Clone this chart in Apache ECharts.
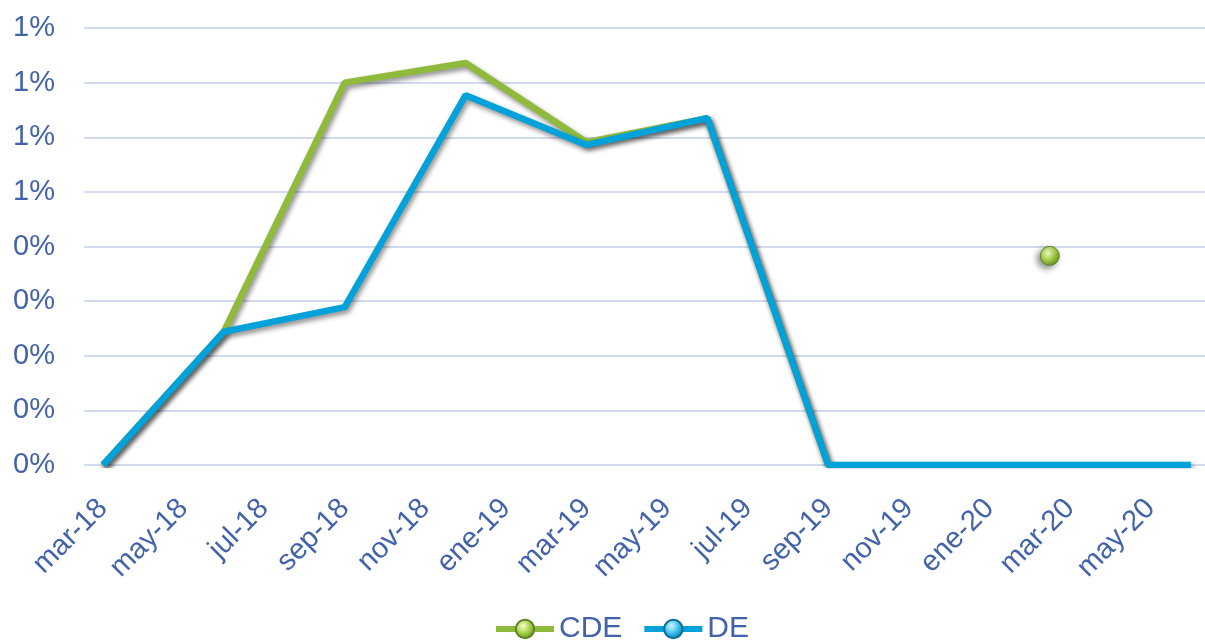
<!DOCTYPE html>
<html>
<head>
<meta charset="utf-8">
<script src="https://cdn.jsdelivr.net/npm/echarts@6/dist/echarts.min.js"></script>
<style>
html,body{margin:0;padding:0;background:#fff;}
#chart{width:1205px;height:641px;}
</style>
</head>
<body>
<div id="chart"></div>
<script>
// Month offsets counted from mar-18
const xTickPos = [0,2,4,6,8,10,12,14,16,18,20,22,24,26];
const xTickLabels = ['mar-18','may-18','jul-18','sep-18','nov-18','ene-19','mar-19','may-19','jul-19','sep-19','nov-19','ene-20','mar-20','may-20'];
const yTickLabels = ['0%','0%','0%','0%','0%','1%','1%','1%','1%'];

// Quarterly observation positions (months from mar-18)
const obsPos = [0,3,6,9,12,15,18,21,24,27];
// Values in percent
const deValues  = [0, 0.244, 0.289, 0.677, 0.586, 0.635, 0, 0, 0, 0];
const cdeValues = [0, 0.244, 0.700, 0.736, 0.591, 0.635, 0, null, null, null];
// Isolated CDE observation
const cdeLonePos = 23.5;
const cdeLoneValue = 0.383;

const labelColor = '#4262aa';
const fontFam = '"Liberation Sans", Arial, sans-serif';

const deData = obsPos.map((p,i)=>[p, deValues[i]]);
const cdeData = [];
obsPos.forEach((p,i)=>{
  if (p > cdeLonePos && cdeData.length && cdeData[cdeData.length-1][0] < cdeLonePos) {
    cdeData.push({value:[cdeLonePos, cdeLoneValue], symbolSize:19});
  }
  cdeData.push([p, cdeValues[i] === null ? '-' : cdeValues[i]]);
});

function sphere(light, mid, dark){
  return new echarts.graphic.RadialGradient(0.4, 0.35, 0.65, [
    {offset:0, color:light},{offset:0.55, color:mid},{offset:1, color:dark}
  ]);
}

const chart = echarts.init(document.getElementById('chart'), null, {renderer:'canvas'});
chart.setOption({
  animation:false,
  grid:{left:84, right:0, top:28, bottom:176, containLabel:false},
  legend:{
    bottom:-8, left:488,
    itemWidth:58, itemHeight:23, itemGap:19,
    lineStyle:{width:6},
    textStyle:{color:labelColor, fontSize:30, fontFamily:fontFam},
    data:['CDE','DE']
  },
  xAxis:{
    type:'value', min:-0.47, max:27.35,
    axisLine:{show:false}, axisTick:{show:false}, splitLine:{show:false},
    axisLabel:{
      customValues:xTickPos,
      rotate:45, margin:39,
      color:labelColor, fontSize:29, fontFamily:fontFam,
      formatter:(v)=>{ const i = xTickPos.indexOf(Math.round(v)); return i>=0 ? xTickLabels[i] : ''; }
    }
  },
  yAxis:{
    type:'value', min:0, max:0.8, interval:0.1,
    axisLine:{show:false}, axisTick:{show:false},
    splitLine:{lineStyle:{color:'#d3daed', width:2}},
    axisLabel:{
      margin:29, color:labelColor, fontSize:29, fontFamily:fontFam,
      formatter:(v)=> yTickLabels[Math.round(v*10)] || ''
    }
  },
  series:[
    {
      name:'CDE', type:'line', data:cdeData,
      symbol:'circle', symbolSize:0, showSymbol:true, connectNulls:false,
      lineStyle:{color:'#8fba3c', width:6.5, shadowColor:'rgba(0,0,0,0.45)', shadowBlur:5, shadowOffsetX:2, shadowOffsetY:3},
      itemStyle:{color:sphere('#f2ffc8','#a6d04a','#6c9428'), borderColor:'#5f8424', borderWidth:1,
        shadowColor:'rgba(0,0,0,0.45)', shadowBlur:6, shadowOffsetX:-3, shadowOffsetY:3},
      z:2
    },
    {
      name:'DE', type:'line', data:deData,
      symbol:'circle', symbolSize:0, showSymbol:true,
      lineStyle:{color:'#00a2d9', width:6.5, shadowColor:'rgba(0,0,0,0.45)', shadowBlur:5, shadowOffsetX:2, shadowOffsetY:3},
      itemStyle:{color:sphere('#d8f6ff','#3cc2ef','#0a7fb0'), borderColor:'#0a6d99', borderWidth:1},
      z:3
    }
  ]
});
</script>
</body>
</html>
